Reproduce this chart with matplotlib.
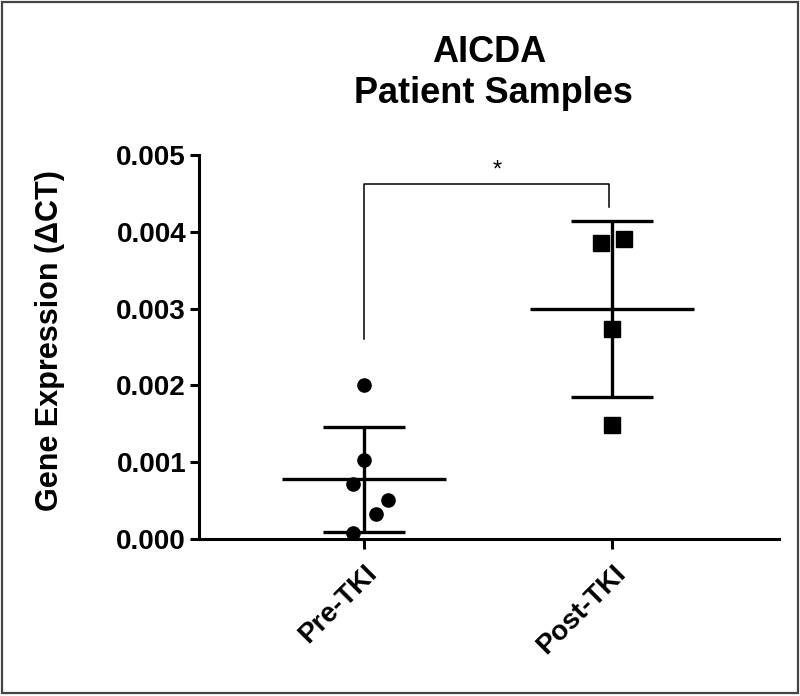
"""
AICDA patient samples: scatter met gemiddelde en SD per groep.
"""

import numpy as np
import matplotlib
matplotlib.use("Agg")
import matplotlib.pyplot as plt
from matplotlib.patches import Rectangle

plt.rcParams['font.family'] = ['Liberation Sans', 'DejaVu Sans']
plt.rcParams['font.weight'] = 'bold'

categories = ['Pre-TKI', 'Post-TKI']

pre_values = [0.00200, 0.00103, 0.00071, 0.00051, 0.00032, 0.00008]
pre_jitter = [0.0, 0.0, -0.044, 0.097, 0.048, -0.044]

post_values = [0.00386, 0.00391, 0.00273, 0.00148]
post_jitter = [-0.044, 0.048, 0.0, 0.0]

yticks = [0.000, 0.001, 0.002, 0.003, 0.004, 0.005]

fig = plt.figure(figsize=(8, 6.96), dpi=100)
ax = fig.add_axes([0.249, 0.2256, 0.725, 0.5517])

# puntjes
ax.plot(np.array(pre_jitter) + 0, pre_values, 'o', color='black',
        markersize=9.5, clip_on=False, zorder=5)
ax.plot(np.array(post_jitter) + 1, post_values, 's', color='black',
        markersize=11, clip_on=False, zorder=5)

# gemiddelde en SD
for i, vals in enumerate([pre_values, post_values]):
    m = np.mean(vals)
    sd = np.std(vals, ddof=1)
    ax.hlines(m, i - 0.33, i + 0.33, color='black', lw=2.4, zorder=4)
    ax.hlines([m - sd, m + sd], i - 0.165, i + 0.165, color='black', lw=2.4, zorder=4)
    ax.vlines(i, m - sd, m + sd, color='black', lw=2.4, zorder=4)

# significantie
ax.plot([0, 0, 0.985, 0.985], [0.0026, 0.00462, 0.00462, 0.00432],
        color='black', lw=1.1, clip_on=False)
ax.text(0.536, 0.00466, '*', ha='center', va='bottom', fontsize=17, fontweight='normal')

ax.set_xlim(-0.665, 1.673)
ax.set_ylim(0, 0.005)
ax.set_xticks([0, 1])
ax.set_xticklabels(categories, rotation=45, ha='right', rotation_mode='anchor',
                   fontsize=20, fontweight='bold')
ax.set_yticks(yticks)
ax.set_yticklabels([f'{v:.3f}' for v in yticks], fontsize=20, fontweight='bold')
ax.tick_params(axis='both', direction='out', length=6.5, width=2.2, pad=3)
ax.tick_params(axis='x', length=7.5, pad=8)

for s in ['top', 'right']:
    ax.spines[s].set_visible(False)
for s in ['left', 'bottom']:
    ax.spines[s].set_linewidth(2.2)

ax.set_ylabel('Gene Expression (\u0394CT)', fontsize=22, fontweight='bold')
ax.yaxis.set_label_coords(-0.231, 0.516)

fig.text(0.612, 0.911, 'AICDA', ha='center', va='baseline', fontsize=26, fontweight='bold')
fig.text(0.617, 0.852, 'Patient Samples', ha='center', va='baseline', fontsize=26, fontweight='bold')

# rand rond de figuur
fig.patches.append(Rectangle((0.002, 0.004), 0.995, 0.993, transform=fig.transFigure,
                             fill=False, edgecolor='#444444', lw=1.6))

fig.savefig('out.png', dpi=100)
